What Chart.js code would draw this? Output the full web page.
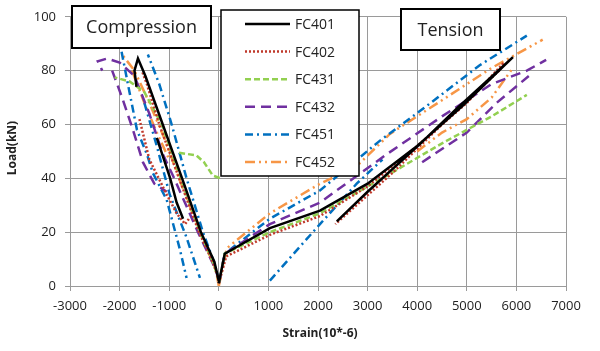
<!DOCTYPE html>
<html>
<head>
<meta charset="utf-8">
<script src="https://cdn.jsdelivr.net/npm/chart.js@4"></script>
<style>
  html, body { margin: 0; padding: 0; background: #fff; }
  #wrap { width: 600px; height: 351px; }
</style>
</head>
<body>
<div id="wrap"><canvas id="chart" width="600" height="351"></canvas></div>
<script>
// strain (10^-6) and load (kN) per specimen, null = break between traces
const strainFC401 = [0, -90, -360, -740, -1130, -1480, -1630, -1700, -1660, null, -1250, -980, -850, -720, null,
  0, 120, 1030, 2040, 3000, 4000, 4920, 5930, 4800, 4070, 3000, 2380];
const loadFC401 = [2, 9, 20, 40, 60, 78, 84.5, 80, 74, null, 55, 40, 31, 25, null,
  1, 12, 21.5, 28, 38, 52, 67, 85, 66, 53, 35, 24];

const strainFC402 = [0, -100, -400, -800, -1200, -1450, -1550, null, -1600, -1400, -1050, -850, -680, -600, null,
  0, 150, 1030, 2040, 3000, 4000, 5000, 5750, 5650, 4500, 3500, 2350];
const loadFC402 = [2, 8, 20, 40, 60, 75, 80, null, 62, 47, 34, 27, 23, 25, null,
  1, 11, 19, 26, 37, 52, 68, 83, 80, 60, 42, 23];

const strainFC431 = [0, -100, -380, -770, -1150, -1500, -1800, -2100, null, -800, -450, -300, -120, 40, null,
  0, 120, 1030, 2040, 3390, 4500, 5500, 6210];
const loadFC431 = [2, 8, 20, 40, 60, 72, 76, 77.5, null, 49.5, 48.5, 46, 41, 40, null,
  1, 12, 20, 27, 41, 53, 63, 71];

const strainFC432 = [0, -60, -420, -900, -1130, -1400, -1700, -2000, -2250, -2440, -2350, null,
  -2150, -1950, -1730, -1530, -1300, -1050, null,
  0, 120, 1030, 2040, 3390, 4500, 5500, 6210, 6600, null, 4100, 5000, 5600, 6250];
const loadFC432 = [2, 6, 20, 40, 49, 64, 78, 83, 84.5, 83.5, 80, null,
  80, 70, 58, 46, 38, 35, null,
  1, 12, 23, 31, 49, 63, 75, 80, 84, null, 46, 57, 68, 78];

const strainFC451 = [0, -80, -320, -650, -950, -1200, -1430, null,
  -1960, -1800, -1650, -1450, -1330, -1050, -790, -650, null,
  -1500, -1250, -990, -650, -380, null,
  0, 120, 1030, 2040, 3250, 4200, 5260, 6210, null, 1030, 2040, 2780, 3300];
const loadFC451 = [2, 8, 20, 40, 60, 75, 86, null,
  87, 72, 58, 49, 42, 32, 14, 3, null,
  68, 52, 34, 18, 3, null,
  1, 12, 25, 35.5, 54, 67, 82, 93, null, 2, 23, 38, 47];

const strainFC452 = [0, -60, -380, -760, -1100, -1400, -1700, -1950, null, -1750, -1500, -1250, -1000, null,
  0, 160, 1030, 2040, 2780, 3450, 4500, 5500, 6530, null, 4000, 4500, 5000, 5500, 5930];
const loadFC452 = [0, 6, 20, 38, 55, 68, 80, 86, null, 80, 68, 57, 47, null,
  0, 14, 27, 38, 44.5, 56.5, 69, 81, 91.5, null, 50, 57, 62, 70, 81];

const seriesNames = ['FC401', 'FC402', 'FC431', 'FC432', 'FC451', 'FC452'];
const seriesStrain = [strainFC401, strainFC402, strainFC431, strainFC432, strainFC451, strainFC452];
const seriesLoad = [loadFC401, loadFC402, loadFC431, loadFC432, loadFC451, loadFC452];
const seriesColors = ['#000000', '#c0392b', '#92d050', '#7030a0', '#0070c0', '#f79646'];
const seriesDash = [[], [2, 2], [6, 3], [10, 6], [8, 4, 2, 4], [10, 4, 2, 4, 2, 4]];

const xTicks = [-3000, -2000, -1000, 0, 1000, 2000, 3000, 4000, 5000, 6000, 7000];
const yTicks = [0, 20, 40, 60, 80, 100];

const FONT = '"Open Sans", "Noto Sans", sans-serif';

const datasets = seriesNames.map((name, i) => ({
  label: name,
  data: seriesStrain[i].map((x, j) => ({ x: x, y: seriesLoad[i][j] })),
  borderColor: seriesColors[i],
  backgroundColor: seriesColors[i],
  borderDash: seriesDash[i],
  borderWidth: 2.5,
  pointRadius: 0,
  tension: 0,
  fill: false,
  spanGaps: false
}));

// boxes, legend and axis titles drawn by hand
const overlay = {
  id: 'overlay',
  afterDraw(chart) {
    const ctx = chart.ctx;
    ctx.save();

    // text boxes
    const boxes = [
      { text: 'Compression', x: 72, y: 6, w: 139, h: 42 },
      { text: 'Tension', x: 401, y: 9, w: 99, h: 41 }
    ];
    boxes.forEach(b => {
      ctx.fillStyle = '#fff';
      ctx.fillRect(b.x, b.y, b.w, b.h);
      ctx.strokeStyle = '#000';
      ctx.lineWidth = 2;
      ctx.setLineDash([]);
      ctx.strokeRect(b.x, b.y, b.w, b.h);
      ctx.fillStyle = '#222';
      ctx.font = '18px ' + FONT;
      ctx.textAlign = 'center';
      ctx.textBaseline = 'middle';
      ctx.fillText(b.text, b.x + b.w / 2, b.y + b.h / 2 + 1);
    });

    // legend
    ctx.fillStyle = '#fff';
    ctx.fillRect(221, 10, 138, 166);
    ctx.strokeStyle = '#000';
    ctx.lineWidth = 1.5;
    ctx.strokeRect(221, 10, 138, 166);
    chart.data.datasets.forEach((ds, i) => {
      const y = 24 + i * 27.6;
      ctx.beginPath();
      ctx.strokeStyle = ds.borderColor;
      ctx.lineWidth = 2.5;
      ctx.setLineDash(ds.borderDash);
      ctx.moveTo(245, y);
      ctx.lineTo(290, y);
      ctx.stroke();
      ctx.setLineDash([]);
      ctx.fillStyle = '#222';
      ctx.font = '14px ' + FONT;
      ctx.textAlign = 'left';
      ctx.textBaseline = 'middle';
      ctx.fillText(ds.label, 295, y + 1);
    });

    // axis titles
    ctx.fillStyle = '#222';
    ctx.font = 'bold 12px ' + FONT;
    ctx.textAlign = 'center';
    ctx.textBaseline = 'middle';
    ctx.fillText('Strain(10*-6)', 320, 334);
    ctx.translate(13, 148);
    ctx.rotate(-Math.PI / 2);
    ctx.fillText('Load(kN)', 0, 0);
    ctx.restore();
  }
};

new Chart(document.getElementById('chart'), {
  type: 'line',
  data: { datasets: datasets },
  options: {
    responsive: false,
    animation: false,
    layout: { padding: { top: 10, right: 34, left: 0, bottom: 0 } },
    plugins: { legend: { display: false }, tooltip: { enabled: false } },
    scales: {
      x: {
        type: 'linear',
        min: -3000,
        max: 7000,
        afterBuildTicks: s => { s.ticks = xTicks.map(v => ({ value: v })); },
        afterFit: s => { s.height = 65; },
        grid: { color: '#9a9a9a', lineWidth: 1, tickLength: 5 },
        border: { color: '#9a9a9a' },
        ticks: { color: '#222', font: { family: FONT, size: 13 }, padding: 7, maxRotation: 0,
          callback: v => String(v) }
      },
      y: {
        type: 'linear',
        min: 0,
        max: 100,
        afterBuildTicks: s => { s.ticks = yTicks.map(v => ({ value: v })); },
        afterFit: s => { s.width = 70; },
        grid: { color: '#9a9a9a', lineWidth: 1, tickLength: 5 },
        border: { color: '#9a9a9a' },
        ticks: { color: '#222', font: { family: FONT, size: 13 }, padding: 9,
          callback: v => String(v) }
      }
    }
  },
  plugins: [overlay]
});
</script>
</body>
</html>
